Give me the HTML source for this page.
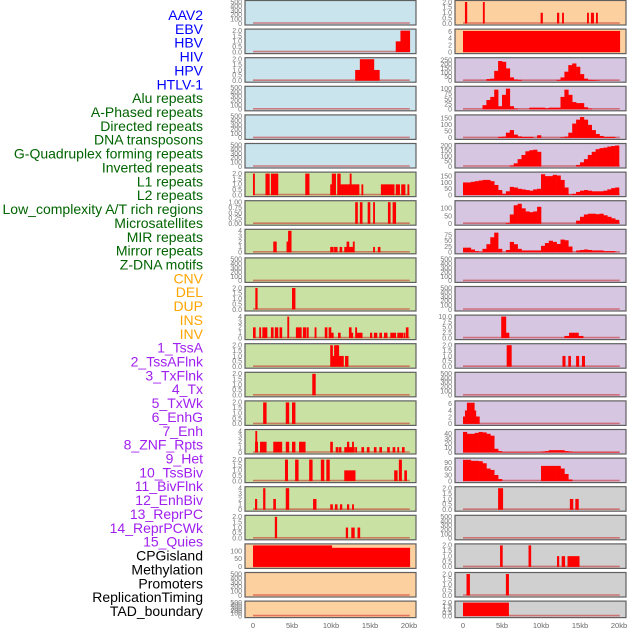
<!DOCTYPE html>
<html><head><meta charset="utf-8">
<style>
html,body{margin:0;padding:0;background:#fff;}
svg{display:block;font-family:"Liberation Sans",sans-serif;}
</style></head>
<body>
<svg id="chart" width="630" height="630" viewBox="0 0 630 630" xmlns="http://www.w3.org/2000/svg"></svg>
<script>
// ---------- labels ----------
const labelNames = ["AAV2","EBV","HBV","HIV","HPV","HTLV-1","Alu repeats","A-Phased repeats","Directed repeats","DNA transposons","G-Quadruplex forming repeats","Inverted repeats","L1 repeats","L2 repeats","Low_complexity A/T rich regions","Microsatellites","MIR repeats","Mirror repeats","Z-DNA motifs","CNV","DEL","DUP","INS","INV","1_TssA","2_TssAFlnk","3_TxFlnk","4_Tx","5_TxWk","6_EnhG","7_Enh","8_ZNF_Rpts","9_Het","10_TssBiv","11_BivFlnk","12_EnhBiv","13_ReprPC","14_ReprPCWk","15_Quies","CPGisland","Methylation","Promoters","ReplicationTiming","TAD_boundary"];
const labelGroupSizes = [6,13,5,15,5];
const labelColors = ["#0000ff","#006400","#ffa500","#a020f0","#000000"];

// ---------- tick label sets ----------
const T500 = ["0","100","200","300","400","500"];
const T2 = ["0.0","0.5","1.0","1.5","2.0"];
const T1 = ["0.00","0.25","0.50","0.75","1.00"];
const T4 = ["0","1","2","3","4"];
const T6 = ["0","2","4","6"];
const T10 = ["0.0","2.5","5.0","7.5","10.0"];
const T100cpg = ["0","50","100"];
const T250 = ["0","50","100","150","200","250"];
const T100q = ["0","25","50","75","100"];
const T150 = ["0","50","100","150"];
const T200 = ["0","50","100","150","200"];
const T75 = ["0","25","50","75"];
const T40 = ["0","10","20","30","40"];
const T90 = ["0","30","60","90"];
const xTickLabels = ["0","5kb","10kb","15kb","20kb"];
const xTickValues = [0,5,10,15,20];

// ---------- sparse segments [startKb, endKb, value] ----------
const segL2 = [[18.3,18.9,1],[18.9,20.1,2]];
const segL3 = [[13.1,13.7,1],[13.7,15.5,2],[15.5,16.2,1]];
const segL7 = [[0,0.2,2],[1.6,2.1,2],[2.3,3.2,2],[6.7,7.2,2],[9.9,10.1,1],[10.1,10.6,2],[10.8,11.2,2],[11.2,12.2,1],[12.2,13,1],[12.4,12.6,2],[13,13.6,1],[13.9,14.1,1],[16.4,18.1,1],[18.3,18.8,1],[19,19.5,1],[19.8,20,1]];
const segL8 = [[13.1,13.4,1],[13.7,14,1],[14.7,15,1],[15.4,15.6,1],[17.3,17.6,1],[17.9,18.3,1]];
const segL9 = [[2.6,3,2],[4.3,4.6,2],[4.5,4.9,4],[9.9,10.3,1],[10.4,10.8,1],[11.1,11.4,1],[11.7,12.1,1],[12,12.3,2],[12.3,12.9,1],[12.8,13,2],[15.4,15.6,1],[16,16.3,1]];
const segL11 = [[0.3,0.55,2],[5,5.4,2]];
const segL12 = [[0,0.3,2],[0.8,1.0,2],[1.2,1.8,2],[2.3,2.6,2],[2.8,3.2,2],[3.4,3.7,2],[4.4,4.6,4],[5.5,6.2,2],[6.4,6.8,2],[6.9,7.1,2],[7.9,8.1,2],[9.2,9.5,2],[9.7,10,2],[10,10.3,1],[10.9,11.2,1],[12.3,12.6,2],[12.6,12.8,1],[13.1,13.3,2],[13.3,14,1],[15,15.25,1],[15.5,15.9,1],[16.2,16.5,1],[16.8,17.2,1],[17.6,18.3,1],[18.5,19.2,1],[19.3,19.5,1],[19.6,19.9,2]];
const segL13 = [[9.9,10.2,2],[10.1,10.5,1],[10.4,11,2],[11,11.6,1],[11.8,12.2,1]];
const segL14 = [[7.6,8.0,2]];
const segL15 = [[1.3,1.7,2],[4.2,4.6,2],[5,5.4,2]];
const segL16 = [[0.26,0.6,2],[0.3,0.5,4],[0.9,1.7,2],[2.6,3.7,2],[4.2,4.6,2],[5,5.4,2],[5.9,6.7,2],[9.9,10.2,2],[10.6,10.9,1],[11,11.3,1],[11.7,12.2,1],[12.05,12.3,2],[12.2,13,1],[12.7,12.9,2],[13.1,13.3,1],[13.9,14.2,1],[14.6,14.9,1],[15.5,15.8,1],[16.2,16.5,1],[17.2,17.5,1],[17.9,18.2,1],[18.5,18.7,1],[19.1,19.4,1]];
const segL17 = [[4.1,4.45,2],[5.4,5.8,2],[7.2,7.6,2],[8.7,9.1,2],[9.4,9.8,2],[11.7,13.1,1],[18.1,18.5,1],[18.7,19.05,2],[19.4,19.7,1]];
const segL18 = [[0.26,0.5,2],[1.3,1.55,4],[2.6,2.9,2],[4.2,4.6,4],[7.7,8.1,2],[9.9,10.2,1],[10.5,10.8,1],[11.15,11.4,1],[12.05,12.3,1],[12.7,12.9,1]];
const segL19 = [[2.8,3.05,2],[11.9,12.15,1],[12.6,13,1],[13.4,13.7,1]];
const segL20 = [[0,10.1,140],[10.1,20.1,120]];
const segR1 = [[0.25,0.5,2],[2.55,2.75,2],[9.95,10.2,1],[12.05,12.3,1],[12.7,12.9,1],[15.9,16.1,1],[16.4,16.75,1],[17.05,17.25,1]];
const segR2 = [[0,20.1,6.2]];
const segR12 = [[4.9,5.5,10],[5.5,5.9,2.5],[13,13.6,1],[13.6,14.8,2.5],[14.8,15.4,1]];
const segR13 = [[5.6,6.2,2],[12.75,13.1,1],[13.5,13.8,1],[14.5,14.85,1],[15.25,15.6,1]];
const segR15 = [[0,0.25,2.2],[0.25,0.5,4],[0.5,1.45,6.3],[1.45,1.65,4],[1.65,2.1,2.2]];
const segR18 = [[4.5,5.1,2],[13.7,14.1,1],[14.4,14.8,1]];
const segR20 = [[4.75,5.05,2],[8.4,8.7,2],[12.05,12.3,1],[12.65,13.05,1],[13.4,14.9,1]];
const segR21 = [[0.45,0.85,2],[5.5,5.85,2]];
const segR22 = [[0,5.85,2]];

// ---------- dense series: 40 bins of 0.5 kb ----------
const binR3 = [0,0,0,0,0,0,20,25,120,240,230,150,40,15,10,0,0,0,0,0,0,0,0,0,10,40,110,190,210,170,80,25,10,8,5,0,0,0,0,0];
const binR4 = [0,0,0,0,0,20,45,60,95,15,70,100,15,3,0,0,0,8,8,8,8,5,8,8,8,60,95,70,35,30,30,10,3,0,0,0,0,0,0,0];
const binR5 = [0,0,0,0,0,0,0,0,0,8,10,40,60,25,12,8,8,8,0,20,0,0,0,0,0,5,10,40,110,140,160,140,100,60,30,15,8,8,8,0];
const binR6 = [0,0,0,0,0,0,0,0,0,0,0,0,10,30,70,110,145,155,160,140,0,0,0,0,0,0,0,0,0,15,40,70,110,140,165,175,180,190,195,200];
const binR7 = [100,100,105,110,115,120,120,110,80,40,10,30,65,60,50,45,40,35,45,50,165,150,150,160,155,120,60,5,10,25,35,40,35,30,30,30,35,45,55,60];
const binR8 = [0,0,0,0,0,0,0,0,0,0,0,5,60,120,130,100,80,75,80,110,0,0,0,0,0,0,0,0,0,20,45,60,65,65,62,65,55,45,35,25];
const binR9 = [20,20,12,5,2,15,35,65,85,15,0,10,45,35,15,8,8,8,8,8,28,40,50,45,36,55,52,25,0,8,10,12,10,8,8,8,5,5,5,0];
const binR16 = [44,40,40,42,44,43,40,36,8,3,1,1,1,1,1,1,1,1,1,1,2,3,5,5,5,5,3,2,1,1,1,1,1,1,1,1,1,1,1,1];
const binR17 = [105,105,100,100,98,88,62,55,30,10,0,0,0,0,0,0,0,0,0,0,75,75,75,75,75,62,35,8,0,0,0,0,0,0,0,0,0,0,0,0];

// ---------- panels ----------
const fills = {blue:"#c9e4ec",green:"#c9e1a3",peach:"#fdd09f",purple:"#d6c6e1",gray:"#d0d0d0"};
const leftPanels = [
 {name:"aav2",fill:"blue",ticks:T500,segs:[]},
 {name:"ebv",fill:"blue",ticks:T2,segs:segL2},
 {name:"hbv",fill:"blue",ticks:T2,segs:segL3},
 {name:"hiv",fill:"blue",ticks:T500,segs:[]},
 {name:"hpv",fill:"blue",ticks:T500,segs:[]},
 {name:"htlv1",fill:"blue",ticks:T500,segs:[]},
 {name:"alu",fill:"green",ticks:T2,segs:segL7},
 {name:"a-phased",fill:"green",ticks:T1,segs:segL8},
 {name:"directed",fill:"green",ticks:T4,segs:segL9},
 {name:"dna-transposons",fill:"green",ticks:T500,segs:[]},
 {name:"g-quadruplex",fill:"green",ticks:T2,segs:segL11},
 {name:"inverted",fill:"green",ticks:T4,segs:segL12},
 {name:"l1",fill:"green",ticks:T2,segs:segL13},
 {name:"l2",fill:"green",ticks:T2,segs:segL14},
 {name:"low-complexity",fill:"green",ticks:T2,segs:segL15},
 {name:"microsatellites",fill:"green",ticks:T4,segs:segL16},
 {name:"mir",fill:"green",ticks:T2,segs:segL17},
 {name:"mirror",fill:"green",ticks:T4,segs:segL18},
 {name:"z-dna",fill:"green",ticks:T2,segs:segL19},
 {name:"cnv",fill:"peach",ticks:T100cpg,segs:segL20,ymax:135},
 {name:"del",fill:"peach",ticks:T500,segs:[]},
 {name:"dup",fill:"peach",ticks:T500,segs:[]}
];
const rightPanels = [
 {name:"ins",fill:"peach",ticks:T2,segs:segR1},
 {name:"inv",fill:"peach",ticks:T6,segs:segR2,ymax:6.3},
 {name:"tssa",fill:"purple",ticks:T250,bins:binR3,ymax:262},
 {name:"tssaflnk",fill:"purple",ticks:T100q,bins:binR4,ymax:104},
 {name:"txflnk",fill:"purple",ticks:T150,bins:binR5,ymax:165},
 {name:"tx",fill:"purple",ticks:T200,bins:binR6,ymax:205},
 {name:"txwk",fill:"purple",ticks:T150,bins:binR7,ymax:170},
 {name:"enhg",fill:"purple",ticks:["0","50","100"],bins:binR8,ymax:140},
 {name:"enh",fill:"purple",ticks:T75,bins:binR9,ymax:93},
 {name:"znf-rpts",fill:"purple",ticks:T500,segs:[]},
 {name:"het",fill:"purple",ticks:T500,segs:[]},
 {name:"tssbiv",fill:"purple",ticks:T10,segs:segR12},
 {name:"bivflnk",fill:"purple",ticks:T2,segs:segR13},
 {name:"enhbiv",fill:"purple",ticks:T500,segs:[]},
 {name:"reprpc",fill:"purple",ticks:T6,segs:segR15,ymax:6.4},
 {name:"reprpcwk",fill:"purple",ticks:T40,bins:binR16,ymax:46},
 {name:"quies",fill:"purple",ticks:T90,bins:binR17,ymax:106},
 {name:"cpgisland",fill:"gray",ticks:T2,segs:segR18},
 {name:"methylation",fill:"gray",ticks:T500,segs:[]},
 {name:"promoters",fill:"gray",ticks:T2,segs:segR20},
 {name:"replication-timing",fill:"gray",ticks:T2,segs:segR21},
 {name:"tad-boundary",fill:"gray",ticks:T2,segs:segR22}
];

const NS = "http://www.w3.org/2000/svg";
const svg = document.getElementById("chart");
function mk(tag, attrs, parent){
  const e = document.createElementNS(NS, tag);
  for (const k in attrs) e.setAttribute(k, attrs[k]);
  (parent||svg).appendChild(e);
  return e;
}

let li = 0;
labelGroupSizes.forEach((n, g) => {
  for (let j = 0; j < n; j++) {
    const t = mk("text", {x:203, y:20 + li*13.86, "text-anchor":"end", "font-size":"14", fill:labelColors[g]});
    t.textContent = labelNames[li];
    
    
    li++;
  }
});

function drawPanel(col, row, p){
  const fx = col ? 455 : 245, fw = 171;
  const top = row*28.6 + 0.5;
  const h = row === 21 ? 16.5 : 24.5;
  const dx0 = col ? 463 : 253, kbScale = 7.8;
  const ticksNum = p.ticks.map(parseFloat);
  const ymax = p.ymax || ticksNum[ticksNum.length-1];
  const yb = top + h - 1.5, yt = top + 1.5;
  const xs = kb => dx0 + kb*kbScale;
  const ys = v => yb - Math.min(v, ymax)/ymax*(yb-yt);
  const g = mk("g", {});
  
  
  const bg = mk("rect", {x:fx, y:top, width:fw, height:h, fill:fills[p.fill], stroke:"#606060", "stroke-width":1.2}, g);
  
  
  p.ticks.forEach((lab, i) => {
    const t = mk("text", {x:fx-3, y:ys(ticksNum[i])+2.3, "text-anchor":"end", "font-size":"7", fill:"#777"}, g);
    t.textContent = lab;
    
    
  });
  const bl = mk("line", {x1:xs(0), x2:xs(20.1), y1:yb-0.5, y2:yb-0.5, stroke:"rgba(200,40,40,0.55)", "stroke-width":1.6}, g);
  
  
  let segs = p.segs || [];
  if (p.bins) segs = p.bins.map((v, i) => [i*0.5, (i+1)*0.5, v]).filter(s => s[2] > 0);
  segs.forEach(s => {
    const r = mk("rect", {x:xs(s[0]), y:ys(s[2]), width:Math.max(1.5, xs(s[1])-xs(s[0])+0.3), height:yb-ys(s[2]), fill:"#ff0000"}, g);
    
    
  });
}
leftPanels.forEach((p, i) => drawPanel(0, i, p));
rightPanels.forEach((p, i) => drawPanel(1, i, p));

[253, 463].forEach(x0 => {
  xTickValues.forEach((v, i) => {
    const t = mk("text", {x:x0 + v*7.8, y:628, "text-anchor":"middle", "font-size":"7.5", fill:"#666"});
    t.textContent = xTickLabels[i];
    
    
  });
});
</script>
</body></html>
